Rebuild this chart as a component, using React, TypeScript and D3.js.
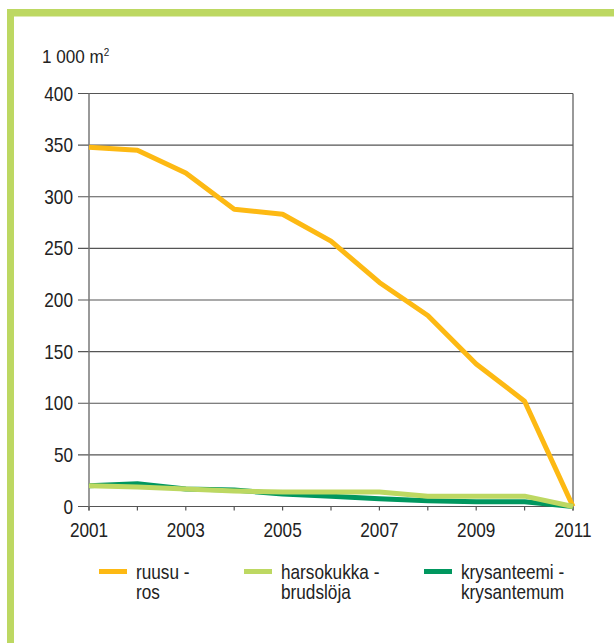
import React from "react";
import * as d3 from "d3";

const years = [2001, 2002, 2003, 2004, 2005, 2006, 2007, 2008, 2009, 2010, 2011];
const ruusu = [348, 345, 323, 288, 283, 257, 217, 185, 138, 102, 0];
const harsokukka = [20, 19, 17, 15, 14, 14, 14, 10, 10, 10, 0];
const krysanteemi = [20, 22, 17, 16, 12, 10, 7.5, 5.5, 4.5, 4.5, 0];
const yTicks = [0, 50, 100, 150, 200, 250, 300, 350, 400];
const xLabelYears = [2001, 2003, 2005, 2007, 2009, 2011];
const seriesNames = [
  ["ruusu -", "ros"],
  ["harsokukka -", "brudslöja"],
  ["krysanteemi -", "krysantemum"],
];
const seriesColors = ["#FDB913", "#BDD862", "#00975F"];

const W = 614;
const H = 643;
const FONT = "'Liberation Sans', Arial, sans-serif";
const SX = 0.86;

function T({
  x,
  y,
  children,
  anchor = "start",
  size = 20,
  sx = SX,
  dy,
}: {
  x: number;
  y: number;
  children: React.ReactNode;
  anchor?: string;
  size?: number;
  sx?: number;
  dy?: string;
}) {
  return (
    <g transform={`translate(${x},${y}) scale(${sx},1)`}>
      <text
        x={0}
        y={0}
        dy={dy}
        textAnchor={anchor as any}
        fontFamily={FONT}
        fontSize={size}
        fill="#222"
      >
        {children}
      </text>
    </g>
  );
}

export default function App() {
  const x = d3.scaleLinear().domain([2001, 2011]).range([89, 573]);
  const y = d3.scaleLinear().domain([0, 400]).range([506.5, 93.5]);
  const line = d3
    .line<number>()
    .x((_, i) => x(years[i]))
    .y((d) => y(d));
  const data = [ruusu, harsokukka, krysanteemi];
  const drawOrder = [0, 2, 1];
  const legendX = [99, 244, 424];

  return (
    <svg
      width={W}
      height={H}
      style={{ position: "absolute", left: 0, top: 0, background: "#fff" }}
    >
      <rect x={7} y={9} width={W} height={7.5} fill="#BDD862" />
      <rect x={7} y={9} width={7} height={H} fill="#BDD862" />

      <T x={42} y={63} size={19} sx={0.9}>
        1 000 m
        <tspan fontSize={11} dy={-7}>2</tspan>
      </T>

      {yTicks.map((t) => (
        <g key={t}>
          <line x1={78} x2={x(2011)} y1={y(t)} y2={y(t)} stroke="#555" strokeWidth={1.2} />
          <T x={73} y={y(t)} dy="0.35em" anchor="end">
            {t}
          </T>
        </g>
      ))}
      <line x1={x(2001)} x2={x(2001)} y1={y(400)} y2={y(0) + 4} stroke="#777" strokeWidth={1.5} />
      <line x1={x(2011)} x2={x(2011)} y1={y(400)} y2={y(0) + 4} stroke="#555" strokeWidth={1.2} />
      {years.map((yr) => (
        <line key={yr} x1={x(yr)} x2={x(yr)} y1={y(0)} y2={y(0) + 4} stroke="#555" strokeWidth={1.2} />
      ))}
      {xLabelYears.map((yr) => (
        <T key={yr} x={x(yr)} y={537} anchor="middle">
          {yr}
        </T>
      ))}

      {drawOrder.map((i) => (
        <path
          key={i}
          d={line(data[i]) || ""}
          fill="none"
          stroke={seriesColors[i]}
          strokeWidth={5}
          strokeLinejoin="round"
        />
      ))}

      {seriesNames.map((nm, i) => (
        <g key={i}>
          <line
            x1={legendX[i]}
            x2={legendX[i] + 28}
            y1={571.5}
            y2={571.5}
            stroke={seriesColors[i]}
            strokeWidth={5}
          />
          <T x={legendX[i] + 37} y={579}>
            {nm[0]}
          </T>
          <T x={legendX[i] + 37} y={599}>
            {nm[1]}
          </T>
        </g>
      ))}
    </svg>
  );
}
